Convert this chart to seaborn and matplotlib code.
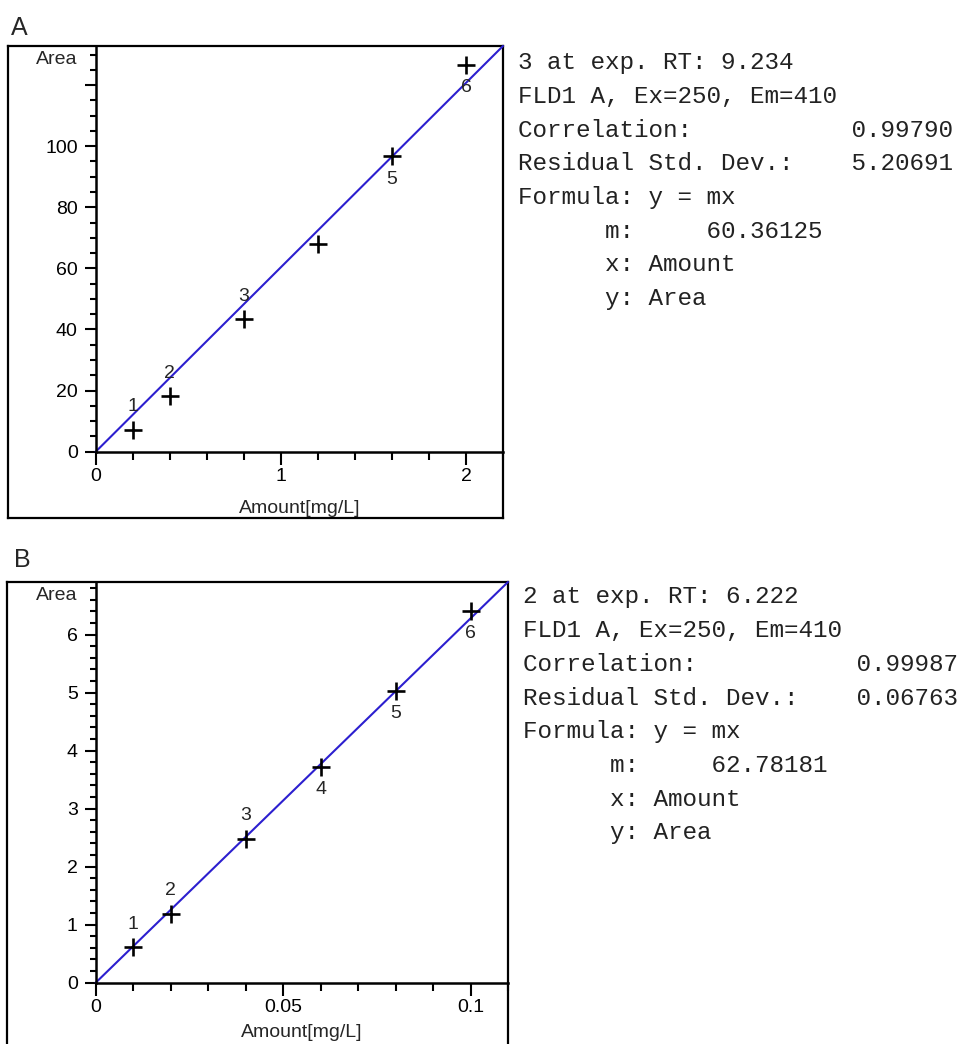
import numpy as np
import pandas as pd
import matplotlib
matplotlib.use("Agg")
import matplotlib.pyplot as plt
from matplotlib.ticker import FixedLocator, MultipleLocator, FuncFormatter
import seaborn as sns

# ---------------- data ----------------
a_amount = [0.2, 0.4, 0.8, 1.2, 1.6, 2.0]
a_area = [7.2, 18.1, 43.4, 67.9, 96.7, 126.7]
a_labels = ["1", "2", "3", "", "5", "6"]
a_label_side = ["above", "above", "above", "above", "below", "below"]
a_slope = 60.36125
a_fit_x = [0.0, 2.2]
a_text = ["3 at exp. RT: 9.234",
          "FLD1 A, Ex=250, Em=410",
          "Correlation:           0.99790",
          "Residual Std. Dev.:    5.20691",
          "Formula: y = mx",
          "      m:     60.36125",
          "      x: Amount",
          "      y: Area"]

b_amount = [0.01, 0.02, 0.04, 0.06, 0.08, 0.10]
b_area = [0.61, 1.19, 2.48, 3.72, 5.03, 6.41]
b_labels = ["1", "2", "3", "4", "5", "6"]
b_label_side = ["above", "above", "above", "below", "below", "below"]
b_slope = 62.78181
b_fit_x = [0.0, 0.11]
b_text = ["2 at exp. RT: 6.222",
          "FLD1 A, Ex=250, Em=410",
          "Correlation:           0.99987",
          "Residual Std. Dev.:    0.06763",
          "Formula: y = mx",
          "      m:     62.78181",
          "      x: Amount",
          "      y: Area"]

# ---------------- style ----------------
sns.set_style("ticks")
plt.rcParams["font.family"] = ["Liberation Sans", "DejaVu Sans"]

W, H = 968, 1044
fig = plt.figure(figsize=(W / 100, H / 100), dpi=100)


def fx(px):
    return px / W


def fy(py):
    return 1 - py / H


LINE_COLOR = "#2c1fcf"
FS = 14


def panel(box, inner, amount, area, labels, sides, slope, fit_x, xlim, ylim,
          xmajor, xminor, ymajor, yminor, ylabels_max, text_lines,
          text_x, text_y0, text_dy, letter, letter_xy, xlabel_off):
    # outer box
    bx0, by0, bx1, by1 = box
    axb = fig.add_axes([fx(bx0), fy(by1), fx(bx1 - bx0), (by1 - by0) / H])
    axb.set_xticks([])
    axb.set_yticks([])
    for s in axb.spines.values():
        s.set_visible(True)
        s.set_linewidth(1.6)
        s.set_color("black")
    axb.set_zorder(0)

    ix0, iy0, ix1, iy1 = inner
    ax = fig.add_axes([fx(ix0), fy(iy1), fx(ix1 - ix0), (iy1 - iy0) / H])
    ax.set_zorder(1)
    ax.patch.set_alpha(0)

    fit_y = [slope * v for v in fit_x]
    sns.lineplot(x=fit_x, y=fit_y, ax=ax, color=LINE_COLOR, linewidth=1.5,
                 clip_on=False)
    sns.scatterplot(x=amount, y=area, ax=ax, marker="+", s=170,
                    color="black", linewidth=1.9, zorder=5)
    for xv, yv, lab, side in zip(amount, area, labels, sides):
        if not lab:
            continue
        off = 16.5 if side == "above" else -16.5
        ax.annotate(lab, (xv, yv), xytext=(0, off), textcoords="offset points",
                    ha="center", va="center", fontsize=FS)

    ax.set_xlim(*xlim)
    ax.set_ylim(*ylim)
    for s in ["top", "right"]:
        ax.spines[s].set_visible(False)
    for s in ["left", "bottom"]:
        ax.spines[s].set_linewidth(1.8)
        ax.spines[s].set_color("black")

    ax.xaxis.set_major_locator(FixedLocator(xmajor))
    ax.xaxis.set_minor_locator(MultipleLocator(xminor))
    ax.xaxis.set_major_formatter(FuncFormatter(lambda v, p: "%g" % v))
    ax.yaxis.set_major_locator(FixedLocator(ymajor))
    ax.yaxis.set_minor_locator(MultipleLocator(yminor))
    ax.yaxis.set_major_formatter(FuncFormatter(
        lambda v, p: ("%g" % v) if v <= ylabels_max + 1e-9 else ""))

    ax.tick_params(axis="both", which="both", bottom=True, left=True,
                   top=False, right=False, direction="out", width=1.5,
                   colors="black")
    ax.tick_params(axis="both", which="major", labelsize=FS)
    ax.tick_params(axis="y", which="major", length=8, pad=5)
    ax.tick_params(axis="x", which="major", length=9, pad=3)
    ax.tick_params(axis="y", which="minor", length=4.3)
    ax.tick_params(axis="x", which="minor", length=6)
    ax.set_xlabel("")
    ax.set_ylabel("")

    ax.annotate("Area", xy=(0, 1), xycoords="axes fraction",
                xytext=(-13, -9.5), textcoords="offset points",
                ha="right", va="center", fontsize=FS)
    ax.annotate("Amount[mg/L]", xy=(0.5, 0), xycoords="axes fraction",
                xytext=(0, -xlabel_off), textcoords="offset points",
                ha="center", va="center", fontsize=FS)

    for i, line in enumerate(text_lines):
        fig.text(fx(text_x), fy(text_y0 + i * text_dy), line,
                 family=["Liberation Mono", "DejaVu Sans Mono"],
                 fontsize=17.5, ha="left", va="center", color="#222222")

    fig.text(fx(letter_xy[0]), fy(letter_xy[1]), letter, fontsize=18,
             ha="left", va="center")
    return ax


panel(box=(8, 46, 503, 518), inner=(95.7, 46, 503, 451.7),
      amount=a_amount, area=a_area, labels=a_labels, sides=a_label_side,
      slope=a_slope, fit_x=a_fit_x, xlim=(0, 2.2),
      ylim=(0, a_slope * 2.2),
      xmajor=[0, 1, 2], xminor=0.2, ymajor=[0, 20, 40, 60, 80, 100, 120],
      yminor=5, ylabels_max=100,
      text_lines=a_text, text_x=518, text_y0=63, text_dy=33.6,
      letter="A", letter_xy=(11, 28), xlabel_off=41)

panel(box=(7, 582, 508, 1052), inner=(95.7, 582, 508, 982.7),
      amount=b_amount, area=b_area, labels=b_labels, sides=b_label_side,
      slope=b_slope, fit_x=b_fit_x, xlim=(0, 0.11),
      ylim=(0, b_slope * 0.11),
      xmajor=[0, 0.05, 0.1], xminor=0.01, ymajor=[0, 1, 2, 3, 4, 5, 6],
      yminor=0.2, ylabels_max=6,
      text_lines=b_text, text_x=523, text_y0=597, text_dy=33.7,
      letter="B", letter_xy=(14, 560), xlabel_off=36)

fig.savefig("out.png", dpi=100)
